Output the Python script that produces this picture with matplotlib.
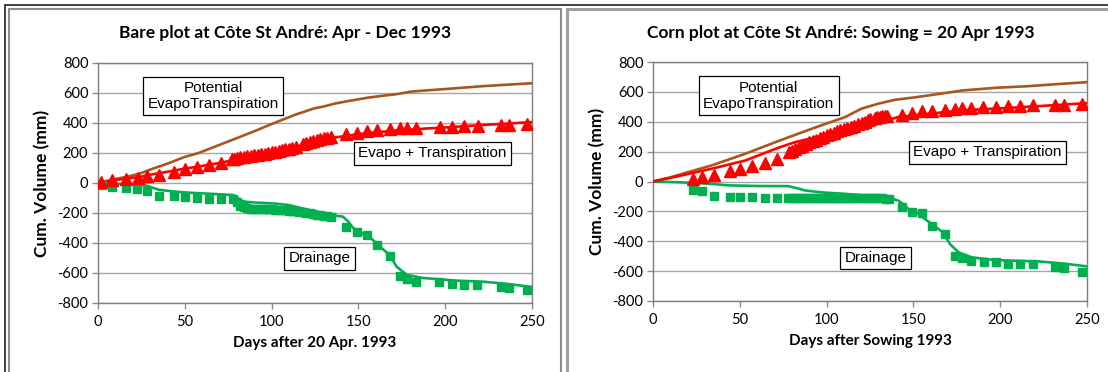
import matplotlib
matplotlib.use("Agg")
import matplotlib.pyplot as plt
from matplotlib.patches import Rectangle

# ---------------- DATA ----------------
# Bare plot
bare_pet_days = [0, 8, 16, 24, 30, 40, 50, 58, 71, 79.5, 90, 100, 114, 124.7, 130, 137, 145, 155.5, 165, 172, 180, 190, 200.7, 221, 235, 250]
bare_pet_vals = [0, 22, 40, 62, 89, 129, 174, 200, 259, 297, 345, 393, 457, 498, 510, 531, 548, 569, 583, 592, 609, 618, 627, 645, 655, 665]

bare_et_days = [0, 5, 10, 16, 24, 30, 40, 50, 58, 71, 79.5, 90, 100, 110, 116.5, 125, 137, 149, 160, 170, 180, 190, 200, 211, 225, 240, 250]
bare_et_vals = [0, 10, 20, 30, 40, 55, 75, 96, 110, 136, 156, 180, 208, 232, 248, 275, 304, 324, 338, 348, 356, 364, 370, 379, 389, 399, 406]

bare_et_obs_days = [2, 8, 16, 23, 28, 35, 44, 50, 57, 64, 71, 77, 78.5, 80, 82, 84, 86, 88, 90, 92, 94, 96, 98, 100, 102, 104, 106, 108, 110, 112, 114,
                    118, 120, 122, 124, 126, 128, 130, 132, 134, 143, 149, 155, 161, 168, 174, 178, 183, 197, 204, 211, 219, 232, 237, 247]
bare_et_obs_vals = [7, 18, 29, 33, 47, 56, 74, 92, 107, 123, 136, 158, 163, 168, 172, 176, 180, 183, 186, 189, 192, 196, 200, 205, 210, 215, 219, 224, 229, 234, 240,
                    262, 270, 276, 282, 287, 292, 297, 301, 305, 326, 335, 346, 353, 362, 366, 366, 368, 375, 375, 379, 382, 386, 386, 391]

bare_dr_days = [0, 10, 20, 28, 35, 45, 53, 65, 78, 80, 82, 85, 90, 101, 110, 120, 130, 141, 144, 147, 152, 157, 162.5, 168, 172, 178, 187, 200, 207, 222, 236, 250]
bare_dr_vals = [0, -4, -10, -18, -45, -58, -65, -72, -80, -95, -115, -125, -130, -136, -147, -176, -209, -224, -255, -300, -335, -365, -425, -480, -558, -613, -633, -645, -651, -658, -673, -693]

bare_dr_obs_days = [2.1, 7.9, 16, 22.6, 28, 35, 43.8, 50, 56.8, 64, 71, 78, 80, 82, 84, 86, 88, 90, 92, 94, 96, 98, 100, 102, 104, 106, 108, 110, 112, 114, 116,
                    118, 120, 122, 124, 126, 128, 130, 132, 134, 142.7, 149, 154.8, 160.5, 168.2, 174, 177.8, 183, 196.6, 203.7, 210.8, 218.5, 232, 236.7, 247]
bare_dr_obs_vals = [-13, -24, -36, -42, -51, -87, -87, -91, -100, -107, -107, -109, -125, -150, -162, -168, -171, -173, -174, -175, -175, -176, -176, -177, -178, -180, -182, -184, -186, -188, -190,
                    -193, -197, -201, -206, -210, -214, -218, -221, -224, -291, -329, -347, -413, -487, -620, -642, -658, -658, -673, -680, -680, -691, -698, -713]

# Corn plot
corn_pet_days = [0, 10, 20, 33.6, 53, 72, 91.4, 110.6, 120, 129.8, 139.4, 150, 158.6, 170, 177.8, 197, 216, 235.5, 250]
corn_pet_vals = [0, 28, 62, 107, 185, 270, 353, 431, 487, 521, 547, 562, 576, 595, 609, 627, 638, 654, 665]

corn_et_days = [0, 10, 20, 33.6, 53, 72, 81.6, 100.8, 120, 129.8, 141, 158.6, 177.8, 206.6, 235.5, 250]
corn_et_vals = [0, 24, 50, 85, 140, 225, 263, 315, 364, 393, 431, 453, 476, 494, 514, 525]

corn_et_obs_days = [23, 28.3, 35.4, 44.3, 50.3, 57.2, 64.3, 71.3, 78.6, 80.2, 82, 84, 86, 88, 90, 92, 94, 96, 98, 100, 102, 104, 106, 108, 110, 112, 114, 116,
                    118, 120.6, 122, 123.7, 125, 127.7, 129, 130.8, 132, 133.8, 135,
                    143.3, 149, 155, 161, 168, 174, 178, 183, 190, 197.5, 204.5, 211.6, 219, 231.8, 236.9, 247]
corn_et_obs_vals = [16, 27, 45, 67, 83, 105, 123, 152, 195, 202, 215, 228, 238, 248, 262, 272, 280, 292, 300, 310, 318, 328, 336, 345, 352, 358, 365, 370,
                    382, 392, 400, 410, 418, 426, 430, 433, 436, 437, 440,
                    448, 460, 471, 475, 482, 487, 493, 493, 498, 500, 504, 504, 509, 509, 509, 516]

corn_dr_days = [0, 14.6, 25, 33.8, 43.4, 60, 78, 83, 87.6, 95, 101, 110, 120, 130, 137.5, 141.3, 144, 147, 152.8, 160.5, 167, 171, 176, 183.6, 197, 222, 235.4, 250]
corn_dr_vals = [0, -5, -10, -16, -26, -30, -31, -45, -60, -70, -76, -82, -92, -105, -116, -128, -150, -183, -217, -284, -340, -418, -474, -508, -526, -535, -548, -568]

corn_dr_obs_days = [23.2, 28.3, 35.4, 44.3, 50.3, 57.2, 64.3, 71.3,
                    78, 80, 82, 84, 86, 88, 90, 92, 94, 96, 98, 100, 102, 104, 106, 108, 110, 112, 114, 116, 118, 120, 122, 124, 126, 128, 130, 132, 134, 136,
                    143.3, 149, 155, 161, 168, 174, 178, 183.3, 190.4, 197.5, 204.5, 211.6, 219, 231.8, 236.9, 247]
corn_dr_obs_vals = [-56, -64, -97, -105, -105, -105, -110, -110,
                    -110, -111, -111, -112, -112, -112, -112, -113, -112, -112, -112, -113, -113, -112, -112, -112, -113, -112, -112, -111, -111, -111, -112, -112, -112, -112, -113, -113, -114, -114,
                    -168, -206, -213, -296, -354, -498, -511, -531, -538, -538, -549, -554, -554, -572, -576, -605]

titles = ["Bare plot at Côte St André: Apr - Dec 1993", "Corn plot at Côte St André: Sowing = 20 Apr 1993"]
xlabels = ["Days after 20 Apr. 1993", "Days after Sowing 1993"]
ylabel = "Cum. Volume (mm)"
label_pet = "Potential\nEvapoTranspiration"
label_et = "Evapo + Transpiration"
label_dr = "Drainage"
xticks = [0, 50, 100, 150, 200, 250]
yticks = [-800, -600, -400, -200, 0, 200, 400, 600, 800]

# ---------------- STYLE ----------------
W, H = 1108, 372
C_PET = "#a8561c"
C_ET = "#ff0000"
C_DR = "#00b050"
CAL = ["Lato", "DejaVu Sans"]
ARI = ["Liberation Sans", "DejaVu Sans"]

fig = plt.figure(figsize=(W / 100, H / 100), dpi=100)


def fx(px):
    return px / W


def fy(py):
    return 1 - py / H


# panel frames
fig.patches.append(Rectangle((fx(4.5), fy(420)), fx(1200), (420 - 4.5) / H, transform=fig.transFigure,
                             fill=False, ec="#202020", lw=1.2))
fig.patches.append(Rectangle((fx(9), fy(420)), fx(561 - 9), (420 - 8.5) / H, transform=fig.transFigure,
                             fill=False, ec="#8c8c8c", lw=1.5))
fig.patches.append(Rectangle((fx(567), fy(420)), fx(1200), (420 - 8.5) / H, transform=fig.transFigure,
                             fill=False, ec="#a0a0a0", lw=2.2))

axes_px = [(98, 63, 532, 303), (653, 62, 1087, 301)]
title_x = [285, 841]
ylab_x = [42, 597]

datasets = [
    (bare_pet_days, bare_pet_vals, bare_et_days, bare_et_vals, bare_et_obs_days, bare_et_obs_vals,
     bare_dr_days, bare_dr_vals, bare_dr_obs_days, bare_dr_obs_vals),
    (corn_pet_days, corn_pet_vals, corn_et_days, corn_et_vals, corn_et_obs_days, corn_et_obs_vals,
     corn_dr_days, corn_dr_vals, corn_dr_obs_days, corn_dr_obs_vals),
]
box_pos = [
    [(66.2, 580), (192.7, 198), (127.6, -503)],
    [(66.6, 575), (192.6, 195), (128.2, -513)],
]

for i, (l, t, r, b) in enumerate(axes_px):
    ax = fig.add_axes([fx(l), fy(b), fx(r - l), (b - t) / H])
    (pd_, pv, ed, ev, eod, eov, dd, dv, dod, dov) = datasets[i]
    ax.plot(pd_, pv, color=C_PET, lw=1.9, zorder=3)
    ax.plot(dd, dv, color=C_DR, lw=1.9, zorder=3)
    ax.plot(dod, dov, ls="none", marker="s", ms=6.3, color=C_DR, mec=C_DR, zorder=4)
    ax.plot(ed, ev, color=C_ET, lw=1.9, zorder=3)
    ax.plot(eod, eov, ls="none", marker="^", ms=8, color=C_ET, mec=C_ET, zorder=4)
    ax.set_xlim(0, 250)
    ax.set_ylim(-800, 800)
    ax.set_xticks(xticks)
    ax.set_yticks(yticks)
    ax.set_xticklabels([str(v) for v in xticks], fontfamily=CAL, fontsize=10.5)
    ax.set_yticklabels([str(v) for v in yticks], fontfamily=CAL, fontsize=10.5)
    ax.tick_params(direction="out", length=4, width=1, color="#8c8c8c", pad=3)
    ax.tick_params(axis="x", pad=5)
    ax.grid(axis="y", color="#a6a6a6", lw=1)
    ax.set_axisbelow(True)
    for s in ax.spines.values():
        s.set_color("#7f7f7f")
        s.set_linewidth(1)
    ax.set_xlabel(xlabels[i], fontfamily=CAL, fontsize=11, fontweight="bold", labelpad=5)
    bp = box_pos[i]
    bb = dict(boxstyle="square,pad=0.28", fc="white", ec="black", lw=0.9)
    ax.text(bp[0][0], bp[0][1], label_pet, ha="center", va="center", fontfamily=ARI, fontsize=11,
            bbox=bb, zorder=6, linespacing=1.2)
    ax.text(bp[1][0], bp[1][1], label_et, ha="center", va="center", fontfamily=ARI, fontsize=11,
            bbox=bb, zorder=6)
    ax.text(bp[2][0], bp[2][1], label_dr, ha="center", va="center", fontfamily=ARI, fontsize=11,
            bbox=bb, zorder=6)
    fig.text(fx(title_x[i]), fy(33), titles[i], ha="center", va="center", fontfamily=CAL,
             fontsize=12.5, fontweight="bold")
    fig.text(fx(ylab_x[i]), fy((t + b) / 2), ylabel, ha="center", va="center", rotation=90,
             fontfamily=CAL, fontsize=12.5, fontweight="bold")

fig.savefig("out.png", dpi=100)
